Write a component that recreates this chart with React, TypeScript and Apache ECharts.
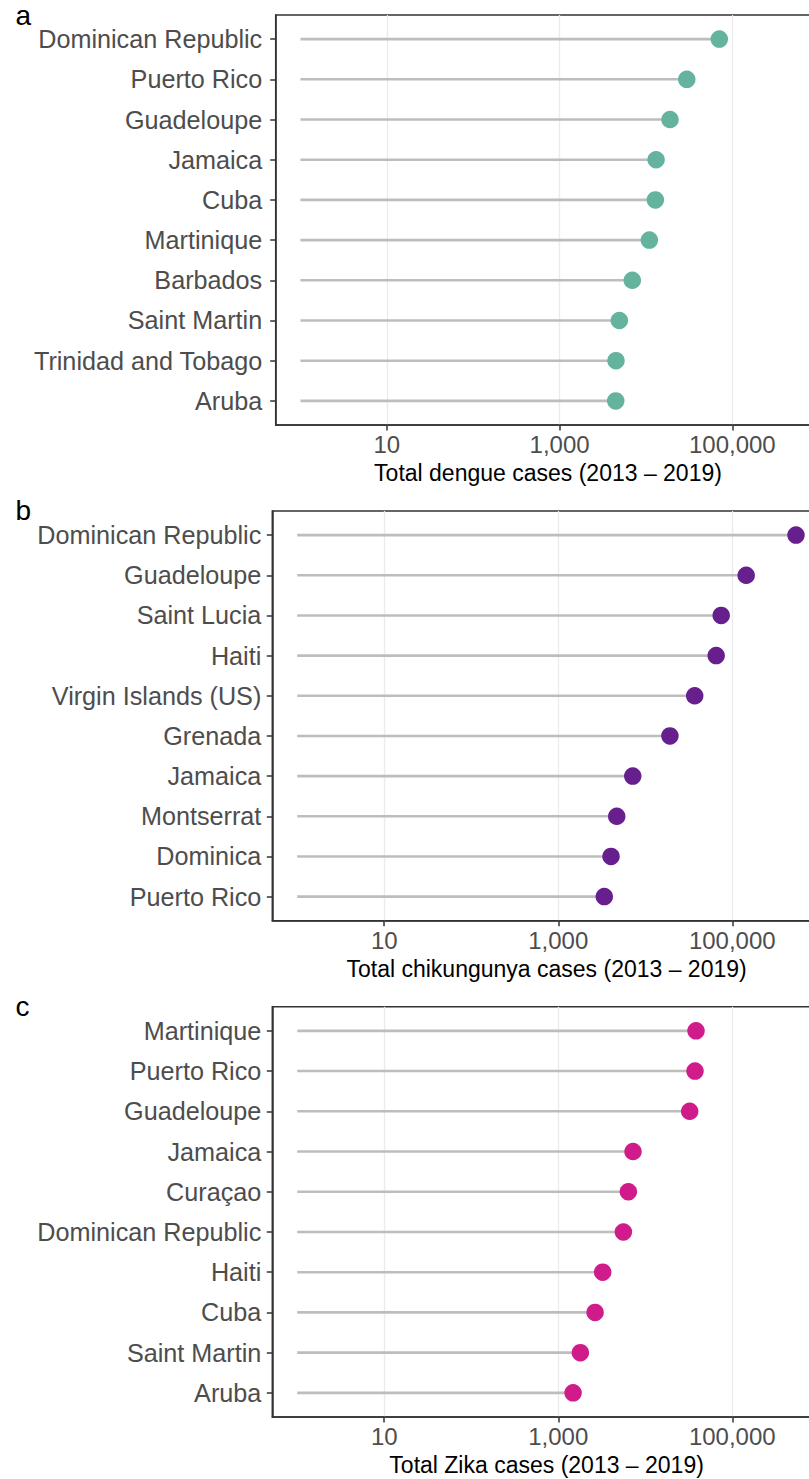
import React, { useEffect, useRef } from "react";
import * as echarts from "echarts";

// ---------- data ----------
const DENGUE_COUNTRIES = [
  "Dominican Republic",
  "Puerto Rico",
  "Guadeloupe",
  "Jamaica",
  "Cuba",
  "Martinique",
  "Barbados",
  "Saint Martin",
  "Trinidad and Tobago",
  "Aruba",
];
const DENGUE_CASES = [70700, 29700, 19000, 13100, 12850, 10950, 6950, 4920, 4500, 4470];

const CHIK_COUNTRIES = [
  "Dominican Republic",
  "Guadeloupe",
  "Saint Lucia",
  "Haiti",
  "Virgin Islands (US)",
  "Grenada",
  "Jamaica",
  "Montserrat",
  "Dominica",
  "Puerto Rico",
];
const CHIK_CASES = [540000, 144500, 74600, 65300, 37000, 19200, 7180, 4700, 4040, 3380];

const ZIKA_COUNTRIES = [
  "Martinique",
  "Puerto Rico",
  "Guadeloupe",
  "Jamaica",
  "Curaçao",
  "Dominican Republic",
  "Haiti",
  "Cuba",
  "Saint Martin",
  "Aruba",
];
const ZIKA_CASES = [38300, 37300, 32400, 7230, 6390, 5600, 3240, 2650, 1795, 1480];

const X_TICK_VALUES = [10, 1000, 100000];
const X_TICK_LABELS = ["10", "1,000", "100,000"];
const AXIS_TITLES = [
  "Total dengue cases (2013 \u2013 2019)",
  "Total chikungunya cases (2013 \u2013 2019)",
  "Total Zika cases (2013 \u2013 2019)",
];
const PANEL_LETTERS = ["a", "b", "c"];
const SEGMENT_START = 1;
const X_MIN = 0.5168;
const X_MAX = 1043800;

// ---------- layout / style ----------
const PANELS = [
  { left: 275.7, top: 15, width: 544.6, height: 410, labelMargin: 13.5, letterY: 15 },
  { left: 272.3, top: 511, width: 548.6, height: 409.7, labelMargin: 11, letterY: 510 },
  { left: 272.3, top: 1006.7, width: 548.6, height: 410.3, labelMargin: 11, letterY: 1006 },
];
const COLORS = ["#63b39f", "#681f8e", "#d01c8b"];
const FONT = '"Liberation Sans", Arial, Helvetica, sans-serif';

export default function App() {
  const ref = useRef<HTMLDivElement>(null);

  useEffect(() => {
    if (!ref.current) return;
    const chart = echarts.init(ref.current, null, { renderer: "svg" });

    const datasets = [
      { countries: DENGUE_COUNTRIES, cases: DENGUE_CASES },
      { countries: CHIK_COUNTRIES, cases: CHIK_CASES },
      { countries: ZIKA_COUNTRIES, cases: ZIKA_CASES },
    ];

    const grid = PANELS.map((p) => ({
      left: p.left,
      top: p.top,
      width: p.width,
      height: p.height,
      show: true,
      borderColor: "#333333",
      borderWidth: 1.5,
      backgroundColor: "transparent",
      containLabel: false,
      outerBoundsMode: "none",
    }));

    const xAxis = datasets.map((_, k) => ({
      type: "log",
      logBase: 10,
      gridIndex: k,
      min: X_MIN,
      max: X_MAX,
      axisLine: { show: true, onZero: false, lineStyle: { color: "#333333", width: 1.5 } },
      axisTick: {
        show: true,
        length: 5.5,
        customValues: X_TICK_VALUES,
        lineStyle: { color: "#333333", width: 1.5 },
      },
      axisLabel: {
        customValues: X_TICK_VALUES,
        formatter: (v: number) => {
          const i = X_TICK_VALUES.findIndex((t) => Math.abs(t - v) / t < 1e-6);
          return i >= 0 ? X_TICK_LABELS[i] : "";
        },
        fontSize: 24,
        color: "#4d4d4d",
        fontFamily: FONT,
        margin: 7.5,
      },
      splitLine: { show: true, lineStyle: { color: "#ebebeb", width: 1.3 } },
      name: AXIS_TITLES[k],
      nameLocation: "middle",
      nameGap: 36.5,
      nameTextStyle: { fontSize: 23, color: "#000000", fontFamily: FONT },
    }));

    const yAxis = datasets.map((d, k) => {
      const idx = d.countries.map((_, i) => i);
      return {
        type: "value",
        gridIndex: k,
        min: -0.6,
        max: 9.6,
        inverse: true,
        z: 5,
        axisLine: { show: true, onZero: false, lineStyle: { color: "#333333", width: 1.5 } },
        axisTick: {
          show: true,
          length: 5.5,
          customValues: idx,
          lineStyle: { color: "#333333", width: 1.5 },
        },
        axisLabel: {
          customValues: idx,
          formatter: (v: number) => d.countries[Math.round(v)] ?? "",
          fontSize: 25.2,
          color: "#4d4d4d",
          fontFamily: FONT,
          margin: PANELS[k].labelMargin,
        },
        splitLine: { show: false },
      };
    });

    const series: any[] = [];
    datasets.forEach((d, k) => {
      series.push({
        type: "custom",
        xAxisIndex: k,
        yAxisIndex: k,
        silent: true,
        z: 2,
        encode: { x: [0, 1], y: 2 },
        data: d.cases.map((v, i) => [SEGMENT_START, v, i]),
        renderItem: (_params: any, api: any) => {
          const a = api.coord([api.value(0), api.value(2)]);
          const b = api.coord([api.value(1), api.value(2)]);
          return {
            type: "line",
            shape: { x1: a[0], y1: a[1], x2: b[0], y2: b[1] },
            style: { stroke: "#bdbdbd", lineWidth: 2.6 },
          };
        },
      });
      series.push({
        type: "scatter",
        xAxisIndex: k,
        yAxisIndex: k,
        z: 3,
        symbol: "circle",
        symbolSize: 17.5,
        itemStyle: { color: COLORS[k], opacity: 1 },
        data: d.cases.map((v, i) => [v, i]),
      });
    });

    const graphic = PANEL_LETTERS.map((t, k) => ({
      type: "text",
      x: 15.5,
      y: PANELS[k].letterY,
      style: {
        text: t,
        fontSize: 28,
        fontFamily: FONT,
        fill: "#000000",
        align: "left",
        verticalAlign: "middle",
      },
    }));

    chart.setOption({
      animation: false,
      backgroundColor: "#ffffff",
      textStyle: { fontFamily: FONT },
      grid,
      xAxis,
      yAxis,
      series,
      graphic,
    });

    return () => chart.dispose();
  }, []);

  return (
    <div
      style={{
        position: "absolute",
        left: 0,
        top: 0,
        width: 809,
        height: 1479,
        overflow: "hidden",
        background: "#ffffff",
      }}
    >
      <div ref={ref} style={{ width: 830, height: 1479 }} />
    </div>
  );
}
